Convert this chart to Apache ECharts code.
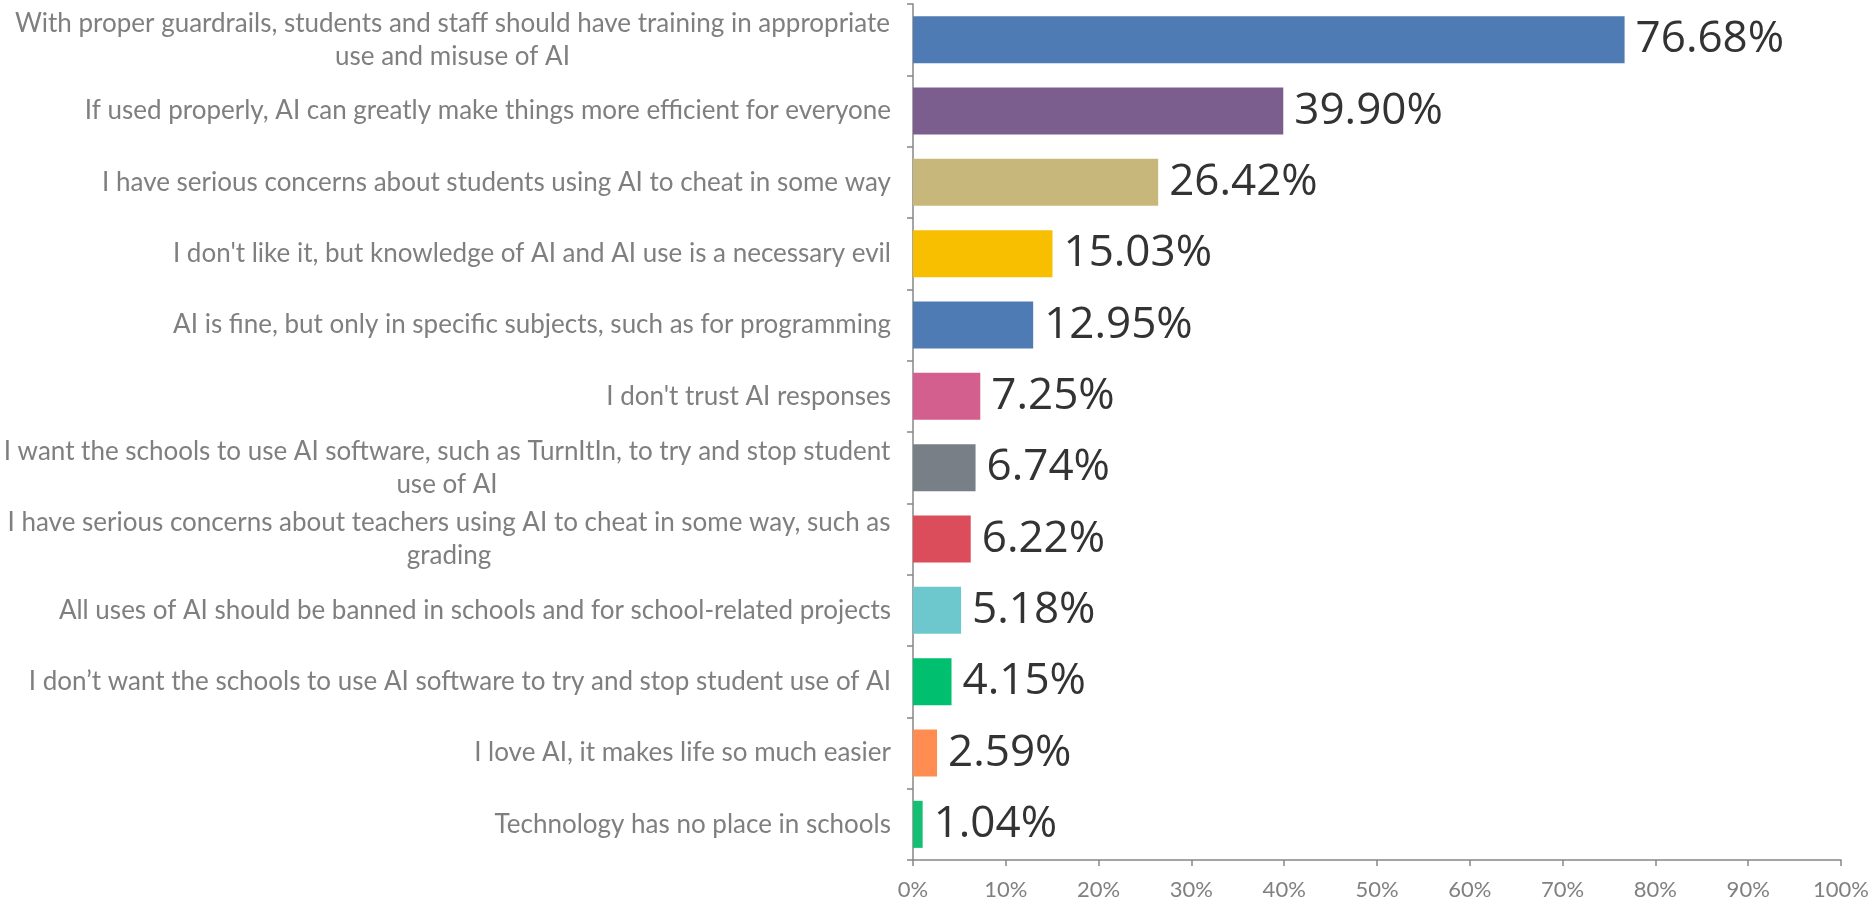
<!DOCTYPE html>
<html>
<head>
<meta charset="utf-8">
<script src="https://cdn.jsdelivr.net/npm/echarts@6/dist/echarts.min.js"></script>
<style>
  html, body { margin: 0; padding: 0; background: #fff; }
  #chart { width: 1874px; height: 908px; }
</style>
</head>
<body>
<div id="chart"></div>
<script>
// 数据
var categories = [
  'With proper guardrails, students and staff should have training in appropriate\nuse and misuse of AI',
  'If used properly, AI can greatly make things more efficient for everyone',
  'I have serious concerns about students using AI to cheat in some way',
  "I don't like it, but knowledge of AI and AI use is a necessary evil",
  'AI is fine, but only in specific subjects, such as for programming',
  "I don't trust AI responses",
  'I want the schools to use AI software, such as TurnItIn, to try and stop student\nuse of AI',
  'I have serious concerns about teachers using AI to cheat in some way, such as\ngrading',
  'All uses of AI should be banned in schools and for school-related projects',
  'I don\u2019t want the schools to use AI software to try and stop student use of AI',
  'I love AI, it makes life so much easier',
  'Technology has no place in schools'
];
var values = [76.68, 39.90, 26.42, 15.03, 12.95, 7.25, 6.74, 6.22, 5.18, 4.15, 2.59, 1.04];
var barColors = ['#4e7bb4', '#7b5e8e', '#c8b77a', '#f8bf00', '#4e7bb4', '#d35f8e',
                 '#787f87', '#db4d5b', '#6cc8cc', '#00bf6e', '#ff8c50', '#14be72'];

var labelFont = 'Lato';
var labelSize = 26;
var labelLine = 33;

// 多行标签：居中对齐，宽度按最长一行计算
var ctx = document.createElement('canvas').getContext('2d');
ctx.font = labelSize + 'px ' + labelFont;
var rich = {};
var labelMap = {};
categories.forEach(function (c, i) {
  var lines = c.split('\n');
  if (lines.length > 1) {
    var w = 0;
    lines.forEach(function (l) { w = Math.max(w, ctx.measureText(l).width); });
    rich['m' + i] = { width: Math.ceil(w) + 1, align: 'center', fontFamily: labelFont,
                      fontSize: labelSize, color: '#7f7f7f', lineHeight: labelLine };
    labelMap[c] = lines.map(function (l) { return '{m' + i + '|' + l + '}'; }).join('\n');
  }
});

var myChart = echarts.init(document.getElementById('chart'));
var option = {
  animation: false,
  grid: { left: 912, right: 33, top: 4, bottom: 48 },
  xAxis: {
    type: 'value',
    min: 0,
    max: 100,
    interval: 10,
    splitLine: { show: false },
    axisLine: { show: true, lineStyle: { color: '#878787', width: 1.5 } },
    axisTick: { show: true, length: 6, lineStyle: { color: '#878787', width: 1.5 } },
    axisLabel: {
      color: '#808080',
      fontFamily: labelFont,
      fontSize: 22,
      margin: 19,
      formatter: function (v) { return v + '%'; }
    }
  },
  yAxis: {
    type: 'category',
    inverse: true,
    data: categories,
    axisLine: { show: true, lineStyle: { color: '#878787', width: 1.5 } },
    axisTick: { show: true, length: 6, lineStyle: { color: '#878787', width: 1.5 } },
    axisLabel: {
      color: '#7f7f7f',
      fontFamily: labelFont,
      fontSize: labelSize,
      margin: 22,
      lineHeight: labelLine,
      rich: rich,
      formatter: function (v) { return labelMap[v] || v; }
    }
  },
  series: [{
    type: 'bar',
    barCategoryGap: '34%',
    data: values.map(function (v, i) {
      return { value: v, itemStyle: { color: barColors[i] } };
    }),
    label: {
      show: true,
      position: 'right',
      distance: 11,
      color: '#333333',
      fontFamily: 'Open Sans',
      fontSize: 44,
      formatter: function (p) { return p.value.toFixed(2) + '%'; }
    }
  }]
};
myChart.setOption(option);
</script>
</body>
</html>
